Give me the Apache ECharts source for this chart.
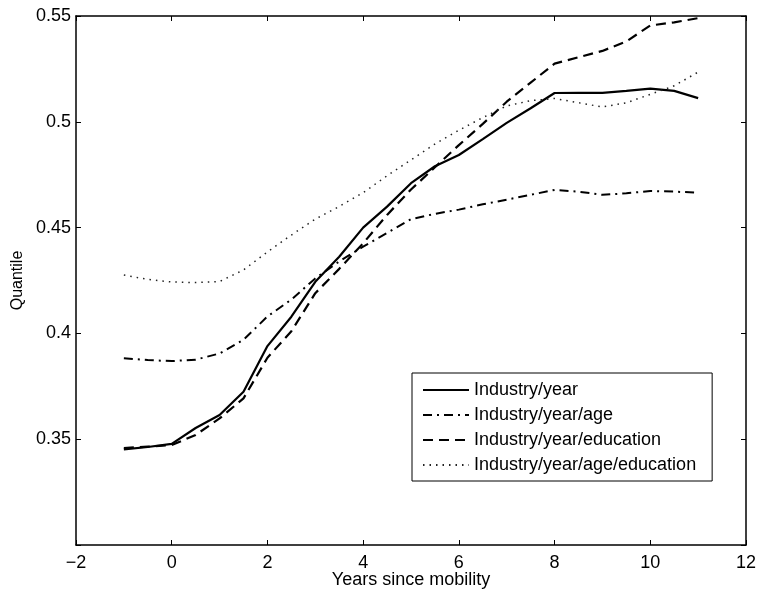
<!DOCTYPE html>
<html>
<head>
<meta charset="utf-8">
<script src="https://cdn.jsdelivr.net/npm/echarts@6/dist/echarts.min.js"></script>
<style>
  html, body { margin: 0; padding: 0; background: #fff; }
  #chart { width: 758px; height: 590px; }
</style>
</head>
<body>
<div id="chart"></div>
<script>
// years since mobility
const years = [-1, -0.5, 0, 0.5, 1, 1.5, 2, 2.5, 3, 3.5, 4, 4.5, 5, 5.5, 6, 6.5, 7, 7.5, 8, 8.5, 9, 9.5, 10, 10.5, 11];

const industryYear = [0.3452, 0.3463, 0.3478, 0.3553, 0.3614, 0.3724, 0.3940, 0.4079, 0.4244, 0.4362, 0.4500, 0.4599, 0.4710,
  0.4790, 0.4843, 0.4918, 0.4995, 0.5064, 0.5136, 0.5137, 0.5137, 0.5146, 0.5157, 0.5146, 0.5112];
const industryYearAge = [0.3882, 0.3874, 0.3869, 0.3876, 0.3905, 0.3970, 0.4080, 0.4160, 0.4260, 0.4340, 0.4410, 0.4475, 0.4540,
  0.4565, 0.4585, 0.4610, 0.4632, 0.4655, 0.4678, 0.4670, 0.4655, 0.4662, 0.4673, 0.4670, 0.4665];
const industryYearEdu = [0.3458, 0.3465, 0.3472, 0.3520, 0.3598, 0.3693, 0.3885, 0.4010, 0.4190, 0.4305, 0.4426, 0.4560, 0.4680,
  0.4785, 0.4890, 0.4990, 0.5095, 0.5185, 0.5275, 0.5305, 0.5335, 0.5380, 0.5455, 0.5470, 0.5490];
const industryYearAgeEdu = [0.4276, 0.4255, 0.4243, 0.4240, 0.4245, 0.4300, 0.4385, 0.4465, 0.4540, 0.4600, 0.4665, 0.4745, 0.4820,
  0.4895, 0.4960, 0.5020, 0.5075, 0.5100, 0.5110, 0.5090, 0.5070, 0.5090, 0.5130, 0.5170, 0.5235];

const seriesNames = ['Industry/year', 'Industry/year/age', 'Industry/year/education', 'Industry/year/age/education'];

const FONT = 'Liberation Sans, Arial, sans-serif';

const pairs = (vals) => years.map((x, i) => [x, vals[i]]);

const lineSeries = (name, vals, type, width, color) => ({
    name: name,
    type: 'line',
    data: pairs(vals),
    symbol: 'none',
    showSymbol: false,
    lineStyle: { color: color, width: width, type: type },
    itemStyle: { color: color },
    emphasis: { disabled: true },
    animation: false
});

const axisBase = {
    axisLine: { show: true, onZero: false, lineStyle: { color: '#000', width: 1.5 } },
    axisTick: { show: true, inside: true, length: 5, lineStyle: { color: '#000', width: 1 } },
    splitLine: { show: false }
};

const chart = echarts.init(document.getElementById('chart'));
chart.setOption({
    animation: false,
    backgroundColor: '#fff',
    grid: { left: 76, right: 12, top: 16, bottom: 45, containLabel: false, outerBoundsMode: 'none' },
    legend: {
        orient: 'vertical',
        left: 412,
        top: 373,
        padding: [8, 16, 7, 10],
        itemGap: 7,
        itemWidth: 46,
        itemHeight: 14,
        borderColor: '#000',
        borderWidth: 1,
        backgroundColor: '#fff',
        data: seriesNames,
        itemStyle: { opacity: 0 },
        textStyle: { fontFamily: FONT, fontSize: 18, color: '#000' }
    },
    xAxis: [
        Object.assign({}, axisBase, {
            type: 'value', min: -2, max: 12, interval: 2, position: 'bottom',
            name: 'Years since mobility', nameLocation: 'middle', nameGap: 26, nameMoveOverlap: false,
            nameTextStyle: { fontFamily: FONT, fontSize: 18, color: '#000' },
            axisLabel: {
                fontFamily: FONT, fontSize: 18, color: '#000', margin: 9,
                formatter: (v) => String(v).replace('-', '\u2212')
            }
        }),
        Object.assign({}, axisBase, {
            type: 'value', min: -2, max: 12, interval: 2, position: 'top',
            axisLabel: { show: false }
        })
    ],
    yAxis: [
        Object.assign({}, axisBase, {
            type: 'value', min: 0.3, max: 0.55, interval: 0.05, position: 'left',
            name: 'Quantile', nameLocation: 'middle', nameGap: 50, nameRotate: 90, nameMoveOverlap: false,
            nameTextStyle: { fontFamily: FONT, fontSize: 16, color: '#000' },
            axisLabel: {
                fontFamily: FONT, fontSize: 18, color: '#000', margin: 5,
                formatter: (v) => (Math.abs(v - 0.3) < 1e-9 ? '' : String(+v.toFixed(2)))
            }
        }),
        Object.assign({}, axisBase, {
            type: 'value', min: 0.3, max: 0.55, interval: 0.05, position: 'right',
            axisLabel: { show: false }
        })
    ],
    series: [
        lineSeries(seriesNames[0], industryYear, 'solid', 2.2, '#000'),
        lineSeries(seriesNames[1], industryYearAge, [9, 5, 2, 5], 2, '#000'),
        lineSeries(seriesNames[2], industryYearEdu, [10, 6], 2.2, '#000'),
        lineSeries(seriesNames[3], industryYearAgeEdu, [1.5, 5], 1.5, '#222')
    ]
});
</script>
</body>
</html>
